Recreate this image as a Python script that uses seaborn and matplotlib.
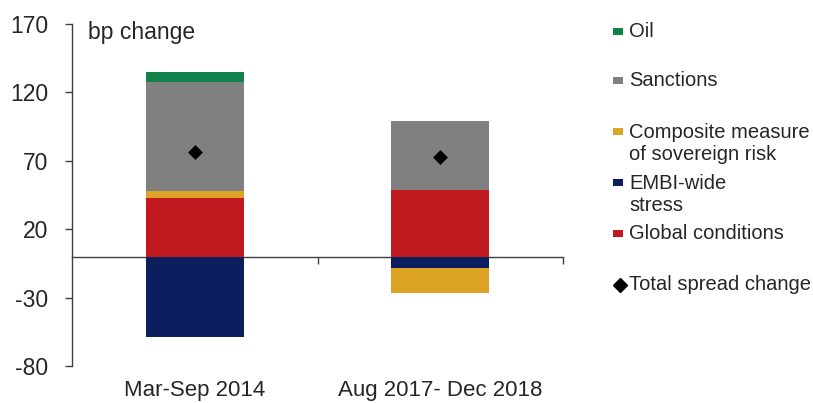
import numpy as np
import pandas as pd
import seaborn as sns
import matplotlib.pyplot as plt
from matplotlib.patches import Rectangle
from matplotlib.lines import Line2D

# ---- data (bp change) ----
categories = ["Mar-Sep 2014", "Aug 2017- Dec 2018"]
global_conditions = [42.5, 48.5]
embi_stress = [-58.7, -8.7]
composite_risk = [5.5, -18.3]
sanctions = [79.7, 50.7]
oil = [7.3, 0.0]
total_change = [76.3, 72.9]

series_names = ["Global conditions", "EMBI-wide stress", "Composite measure of sovereign risk",
                "Sanctions", "Oil"]
series_values = [global_conditions, embi_stress, composite_risk, sanctions, oil]
colors = {
    "Oil": "#12804A",
    "Sanctions": "#808080",
    "Composite measure of sovereign risk": "#DCA324",
    "EMBI-wide stress": "#0B1F5E",
    "Global conditions": "#C0191F",
}
legend_labels = ["Oil", "Sanctions", "Composite measure\nof sovereign risk",
                 "EMBI-wide\nstress", "Global conditions", "Total spread change"]
legend_keys = ["Oil", "Sanctions", "Composite measure of sovereign risk",
               "EMBI-wide stress", "Global conditions", None]
yticks = [-80, -30, 20, 70, 120, 170]

# ---- stacked ends (positive and negative stacks) ----
rows = []
pos = np.zeros(len(categories))
neg = np.zeros(len(categories))
for name, vals in zip(series_names, series_values):
    v = np.array(vals, dtype=float)
    end = np.where(v >= 0, pos + v, neg + v)
    end = np.where(v == 0, 0.0, end)
    pos = np.where(v >= 0, pos + v, pos)
    neg = np.where(v < 0, neg + v, neg)
    for c, e in zip(categories, end):
        rows.append({"category": c, "series": name, "end": e})
df = pd.DataFrame(rows)
draw_order = series_names[::-1]  # outermost segments first

W, H = 813, 403
fig = plt.figure(figsize=(W / 100, H / 100), dpi=100)
ax = fig.add_axes([72 / W, 1 - 366 / H, (563 - 72) / W, (366 - 24) / H])

FONT = "Liberation Sans"
TXT = "#262626"

sns.barplot(data=df, x="category", y="end", hue="series", hue_order=draw_order,
            order=categories, palette=colors, dodge=False, width=0.4, saturation=1,
            legend=False, linewidth=0, edgecolor="none", ax=ax)
sns.stripplot(x=categories, y=total_change, order=categories, jitter=False, marker="D",
              color="black", size=7.6, linewidth=0, zorder=5, ax=ax)

ax.set_xlim(-0.5, 1.5)
ax.set_ylim(-80, 170)
ax.set_yticks(yticks)
ax.set_yticklabels([str(t) for t in yticks], fontsize=16.5, family=FONT, color=TXT)
ax.tick_params(axis="y", direction="out", length=5, width=1, color="#404040", pad=12)
ax.set_xticks(range(len(categories)))
ax.set_xticklabels(categories, fontsize=16, family=FONT, color=TXT)
ax.tick_params(axis="x", length=0, pad=10)
ax.set_xlabel("")
ax.set_ylabel("")
for s in ["top", "right", "bottom"]:
    ax.spines[s].set_visible(False)
ax.spines["left"].set_color("#404040")
ax.spines["left"].set_linewidth(1)
ax.set_facecolor("white")

# zero line as secondary axis with category-boundary ticks
zero_frac = (0 - (-80)) / (170 - (-80))
sec = ax.secondary_xaxis(zero_frac)
sec.set_xticks([0.5, 1.5])
sec.set_xticklabels(["", ""])
sec.tick_params(direction="out", length=5, width=1, color="#404040")
sec.spines["bottom"].set_color("#404040")
sec.spines["bottom"].set_linewidth(1)

ax.text(88 / W, 1 - 32 / H, "bp change", transform=fig.transFigure, fontsize=16.5,
        family=FONT, color=TXT, va="center", ha="left")

# ---- legend (manual, fixed slots) ----
slot_y = [31.7, 80.7, 131.7, 182.7, 233.3, 285.0]
line_h = 23.3
for lab, key, y in zip(legend_labels, legend_keys, slot_y):
    nlines = lab.count("\n") + 1
    yc = y + (nlines - 1) * line_h / 2
    fig.text(629 / W, 1 - yc / H, lab, fontsize=14.5, family=FONT, color=TXT,
             va="center", ha="left", linespacing=1.16)
    if key is not None:
        fig.add_artist(Rectangle((613 / W, 1 - (y + 3.5) / H), 10 / W, 7 / H,
                                 transform=fig.transFigure, color=colors[key], lw=0))
    else:
        fig.add_artist(Line2D([619.5 / W], [1 - y / H], marker="D", markersize=7.5,
                              color="black", linestyle="none", transform=fig.transFigure))

fig.savefig("out.png", dpi=100, facecolor="white")
